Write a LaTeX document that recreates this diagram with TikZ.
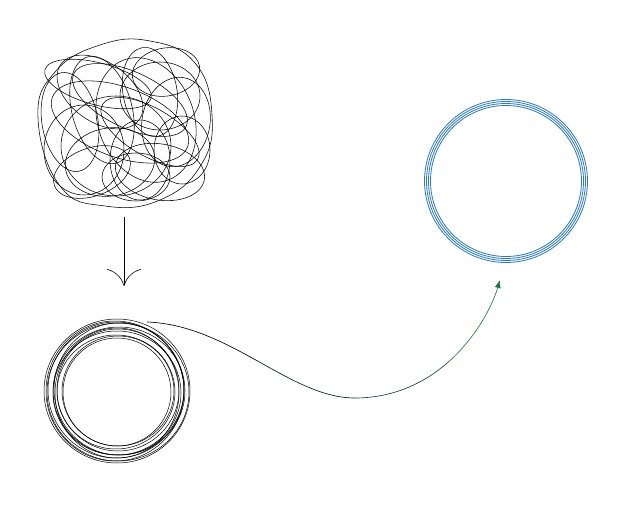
\documentclass[tikz,border=0pt]{standalone}
\usetikzlibrary{arrows.meta}
\definecolor{ringblue}{HTML}{2A78C0}
\definecolor{pathgreen}{HTML}{1E7446}
\begin{document}
\begin{tikzpicture}[x=1pt,y=-1pt,
  scribble/.style={black,line width=0.55pt},
  coil/.style={black,line width=0.5pt},
  ring/.style={ringblue,line width=0.8pt},
  flow/.style={line width=0.65pt}]
\useasboundingbox[fill=white] (0,0) rectangle (626,505);
% named anchors
\node[circle,minimum size=170pt,inner sep=0pt] (tangle) at (124,122) {};
\node[circle,minimum size=146pt,inner sep=0pt] (coilnode) at (117,391) {};
\node[circle,minimum size=164pt,inner sep=0pt] (goal) at (506,181) {};
\coordinate (a1) at (124,217);
\coordinate (a2) at (124,286);
\coordinate (t0) at (147,322);
\coordinate (ta) at (257.75,361.125);
\coordinate (tm) at (355,398);
\coordinate (tb) at (448.875,361.5);
\coordinate (t1) at (500,280);
% tangle
\begin{scope}[scribble]
\draw plot[smooth cycle,tension=0.75] coordinates {(38,118) (55,72) (100,45) (150,41) (195,63) (212,115) (201,165) (160,200) (105,206) (60,186)};
\draw[rotate around={-15:(98,84)}] (98,84) ellipse (55 and 21);
\draw (160,96) ellipse (40 and 34);
\draw[rotate around={10:(150,92)}] (150,92) ellipse (27 and 45);
\draw[rotate around={-10:(176,122)}] (176,122) ellipse (34 and 45);
\draw[rotate around={10:(110,162)}] (110,162) ellipse (45 and 34);
\draw (84,150) ellipse (40 and 45);
\draw (140,160) ellipse (30 and 40);
\draw[rotate around={-10:(160,172)}] (160,172) ellipse (45 and 28);
\draw[rotate around={-20:(120,122)}] (120,122) ellipse (72 and 35);
\draw[rotate around={-25:(130,100)}] (130,100) ellipse (62 and 28);
\draw[rotate around={-30:(150,132)}] (150,132) ellipse (55 and 24);
\draw[rotate around={15:(102,110)}] (102,110) ellipse (30 and 55);
\draw[rotate around={10:(70,122)}] (70,122) ellipse (28 and 50);
\draw (182,150) ellipse (28 and 34);
\draw (136,177) ellipse (34 and 24);
\draw[rotate around={10:(166,72)}] (166,72) ellipse (34 and 24);
\draw (116,146) ellipse (55 and 50);
\draw[rotate around={20:(146,120)}] (146,120) ellipse (48 and 64);
\draw[rotate around={20:(92,172)}] (92,172) ellipse (40 and 24);
\draw[rotate around={-35:(100,92)}] (100,92) ellipse (48 and 30);
\end{scope}
% arrow down
\draw[line width=0.6pt,-{Computer Modern Rightarrow[length=17pt,width=34pt,line width=0.6pt]}] (a1) -- (a2);
% coil
\begin{scope}[coil]
\draw (117,391) ellipse (73 and 72);
\draw (118,392) ellipse (71 and 69);
\draw (116,390) ellipse (68 and 68);
\draw (119,391) ellipse (66 and 64);
\draw (117,393) ellipse (64 and 62);
\draw (118,390) ellipse (61 and 61);
\draw (116,392) ellipse (59 and 57);
\draw (118,391) ellipse (56 and 55);
\draw (117,393) ellipse (62 and 65);
\draw (115,391) ellipse (69 and 70);
\draw (119,389) ellipse (65 and 66);
\draw (117,392) ellipse (54 and 54);
\end{scope}
% flow curve, black fading to green
\draw[flow,black] (t0) .. controls (188.5,323.5) and (224.25,342.5) .. (ta);
\draw[flow,black!75!pathgreen] (ta) .. controls (291.25,379.75) and (322.5,398) .. (tm);
\draw[flow,black!40!pathgreen] (tm) .. controls (392.5,398) and (424.25,383.5) .. (tb);
\draw[flow,pathgreen,-{Latex[length=8pt,width=6pt]}] (tb) .. controls (473.5,339.5) and (491,310) .. (t1);
% blue rings
\begin{scope}[ring]
\draw (506,181) circle (81.5);
\draw (506,181) circle (79.5);
\draw (506,181) circle (77.5);
\draw (506,181) circle (75.5);
\end{scope}
\end{tikzpicture}
\end{document}
